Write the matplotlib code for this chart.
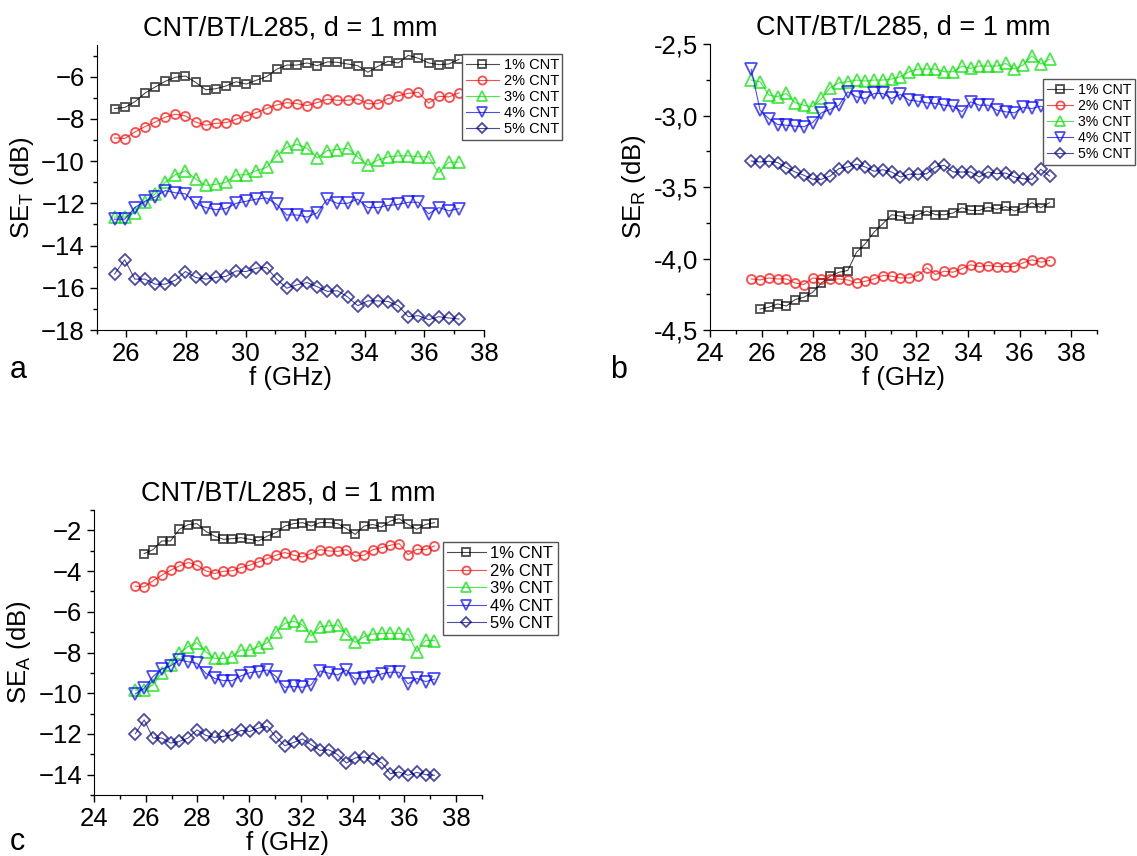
import matplotlib
matplotlib.use("Agg")
import matplotlib.pyplot as plt
from matplotlib.ticker import MultipleLocator, FuncFormatter

plt.rcParams['font.family'] = ['Liberation Sans', 'DejaVu Sans']
plt.rcParams['mathtext.fontset'] = 'custom'
plt.rcParams['mathtext.rm'] = 'Liberation Sans'
plt.rcParams['mathtext.default'] = 'regular'

# frequency points (GHz)
freq = [25.6, 25.94, 26.28, 26.62, 26.96, 27.3, 27.64, 27.98, 28.32, 28.66,
        29.0, 29.34, 29.68, 30.02, 30.36, 30.7, 31.04, 31.38, 31.72, 32.06,
        32.4, 32.74, 33.08, 33.42, 33.76, 34.1, 34.44, 34.78, 35.12, 35.46,
        35.8, 36.14, 36.48, 36.82, 37.16]
freq_1 = freq[1:]  # 1% CNT starts one step later in panels b and c

labels = ['1% CNT', '2% CNT', '3% CNT', '4% CNT', '5% CNT']
colors = ['#000000', '#ff0000', '#00e000', '#0000ff', '#000080']
markers = ['s', 'o', '^', 'v', 'D']
msizes = [6, 6.5, 8, 8, 6]

# panel a: SE_T
se_t_1 = [-7.51, -7.46, -7.19, -6.78, -6.49, -6.22, -6.03, -5.97, -6.27, -6.62,
          -6.57, -6.44, -6.24, -6.35, -6.17, -6.0, -5.65, -5.45, -5.45, -5.35,
          -5.48, -5.30, -5.32, -5.40, -5.48, -5.79, -5.51, -5.27, -5.35, -4.99,
          -5.13, -5.35, -5.43, -5.40, -5.18]
se_t_2 = [-8.90, -8.93, -8.62, -8.37, -8.15, -7.92, -7.78, -7.86, -8.15, -8.30,
          -8.21, -8.18, -8.02, -7.86, -7.70, -7.51, -7.34, -7.23, -7.28, -7.37,
          -7.23, -7.07, -7.12, -7.12, -7.06, -7.28, -7.28, -7.04, -6.91, -6.79,
          -6.74, -7.25, -6.93, -6.96, -6.77]
se_t_3 = [-12.65, -12.65, -12.45, -11.95, -11.55, -11.0, -10.65, -10.45, -10.85, -11.15,
          -11.1, -11.0, -10.65, -10.65, -10.45, -10.3, -9.75, -9.35, -9.2, -9.4,
          -9.85, -9.5, -9.45, -9.4, -9.8, -10.2, -9.95, -9.8, -9.75, -9.75,
          -9.8, -9.8, -10.55, -10.05, -10.05]
se_t_4 = [-12.75, -12.75, -12.2, -11.9, -11.7, -11.4, -11.5, -11.55, -12.0, -12.2,
          -12.3, -12.25, -12.0, -11.9, -11.8, -11.75, -12.05, -12.55, -12.55, -12.65,
          -12.45, -11.8, -12.0, -12.0, -11.8, -12.2, -12.2, -12.1, -12.05, -11.95,
          -11.95, -12.5, -12.2, -12.35, -12.25]
se_t_5 = [-15.35, -14.67, -15.59, -15.59, -15.83, -15.83, -15.64, -15.23, -15.51, -15.59,
          -15.51, -15.46, -15.2, -15.23, -15.07, -15.04, -15.59, -16.02, -15.86, -15.75,
          -15.95, -16.17, -16.14, -16.43, -16.85, -16.62, -16.62, -16.65, -16.85, -17.37,
          -17.32, -17.51, -17.37, -17.43, -17.48]

# panel b: SE_R
se_r_1 = [-4.353, -4.341, -4.318, -4.332, -4.287, -4.271, -4.236, -4.171, -4.124, -4.096,
          -4.084, -3.956, -3.897, -3.815, -3.757, -3.694, -3.703, -3.722, -3.694, -3.668,
          -3.694, -3.694, -3.682, -3.645, -3.664, -3.664, -3.640, -3.657, -3.636, -3.668,
          -3.645, -3.610, -3.645, -3.610]
se_r_2 = [-4.143, -4.150, -4.136, -4.143, -4.143, -4.171, -4.182, -4.136, -4.143, -4.143,
          -4.143, -4.150, -4.171, -4.159, -4.143, -4.119, -4.124, -4.136, -4.136, -4.119,
          -4.065, -4.112, -4.089, -4.096, -4.072, -4.044, -4.056, -4.049, -4.056, -4.056,
          -4.056, -4.030, -4.009, -4.026, -4.014]
se_r_3 = [-2.752, -2.764, -2.857, -2.869, -2.846, -2.911, -2.928, -2.939, -2.881, -2.806,
          -2.771, -2.764, -2.752, -2.759, -2.752, -2.752, -2.745, -2.729, -2.694, -2.675,
          -2.675, -2.675, -2.694, -2.694, -2.654, -2.671, -2.654, -2.654, -2.654, -2.636,
          -2.675, -2.647, -2.582, -2.640, -2.607]
se_r_4 = [-2.678, -2.963, -3.021, -3.063, -3.068, -3.075, -3.079, -3.049, -2.981, -2.958,
          -2.928, -2.834, -2.869, -2.881, -2.846, -2.846, -2.881, -2.853, -2.893, -2.900,
          -2.911, -2.916, -2.928, -2.935, -2.974, -2.904, -2.928, -2.928, -2.963, -2.974,
          -2.981, -2.944, -2.951, -2.935, -2.951]
se_r_5 = [-3.318, -3.325, -3.320, -3.329, -3.364, -3.395, -3.418, -3.446, -3.446, -3.423,
          -3.371, -3.360, -3.341, -3.360, -3.390, -3.379, -3.395, -3.430, -3.411, -3.411,
          -3.407, -3.360, -3.348, -3.395, -3.395, -3.395, -3.430, -3.395, -3.407, -3.402,
          -3.430, -3.442, -3.446, -3.376, -3.423]

# panel c: SE_A
se_a_1 = [-3.14, -2.95, -2.52, -2.52, -1.95, -1.72, -1.67, -2.05, -2.28, -2.44,
          -2.41, -2.36, -2.44, -2.52, -2.28, -2.11, -1.79, -1.67, -1.62, -1.79,
          -1.62, -1.62, -1.67, -1.92, -2.20, -1.79, -1.71, -1.84, -1.54, -1.43,
          -1.71, -1.95, -1.71, -1.62]
se_a_2 = [-4.74, -4.78, -4.48, -4.20, -3.96, -3.75, -3.58, -3.71, -3.99, -4.12,
          -4.01, -3.99, -3.83, -3.71, -3.55, -3.39, -3.22, -3.09, -3.22, -3.31,
          -3.14, -2.95, -3.01, -3.03, -2.95, -3.26, -3.22, -2.95, -2.85, -2.73,
          -2.65, -3.19, -2.93, -2.95, -2.77]
se_a_3 = [-9.84, -9.84, -9.59, -9.02, -8.61, -8.04, -7.71, -7.52, -7.96, -8.29,
          -8.29, -8.20, -7.88, -7.88, -7.71, -7.52, -6.98, -6.57, -6.46, -6.65,
          -7.18, -6.73, -6.69, -6.65, -7.11, -7.50, -7.22, -7.09, -7.06, -7.06,
          -7.06, -7.11, -7.96, -7.39, -7.42]
se_a_4 = [-10.03, -9.76, -9.18, -8.81, -8.66, -8.37, -8.45, -8.53, -9.02, -9.27,
          -9.38, -9.38, -9.15, -8.99, -8.94, -8.86, -9.18, -9.71, -9.67, -9.71,
          -9.59, -8.91, -9.02, -9.10, -8.86, -9.30, -9.27, -9.22, -9.05, -8.97,
          -8.97, -9.54, -9.27, -9.43, -9.31]
se_a_5 = [-11.99, -11.31, -12.20, -12.20, -12.45, -12.37, -12.20, -11.80, -12.07, -12.17,
          -12.12, -12.04, -11.83, -11.88, -11.71, -11.63, -12.16, -12.58, -12.42, -12.25,
          -12.53, -12.81, -12.78, -13.02, -13.43, -13.18, -13.13, -13.22, -13.43, -13.95,
          -13.87, -14.03, -13.89, -14.00, -14.03]

W, H = 1137, 856
fig = plt.figure(figsize=(W / 100, H / 100), dpi=100)


def px_axes(left, top, right, bottom):
    return fig.add_axes([left / W, 1 - bottom / H, (right - left) / W, (bottom - top) / H])


def draw(ax, xs_list, ys_list):
    for xs, ys, lab, c, m, ms in zip(xs_list, ys_list, labels, colors, markers, msizes):
        ax.plot(xs, ys, color=c, lw=0.8, alpha=0.7, marker=m, ms=ms,
                mfc='none', mec=c, mew=1.3, label=lab)
    for s in ['top', 'right']:
        ax.spines[s].set_visible(False)
    ax.tick_params(which='both', direction='out', labelsize=18.5, width=1)
    ax.tick_params(which='major', length=5)
    ax.tick_params(which='minor', length=3)
    ax.set_xlabel('f (GHz)', fontsize=18.5, labelpad=0)
    ax.set_title('CNT/BT/L285, d = 1 mm', fontsize=19.5, pad=7)


def legend(ax, x, y, fs, hl):
    ax.legend(loc='upper left', bbox_to_anchor=(x / W, 1 - y / H),
              bbox_transform=fig.transFigure, fontsize=fs, frameon=True,
              fancybox=False, edgecolor='#555555', framealpha=1,
              borderaxespad=0, borderpad=0.25, labelspacing=0.15,
              handlelength=hl, handletextpad=0.3, markerscale=0.9)


# a
ax_a = px_axes(96.7, 45, 484, 330)
draw(ax_a, [freq] * 5, [se_t_1, se_t_2, se_t_3, se_t_4, se_t_5])
ax_a.set_xlim(25, 38)
ax_a.set_ylim(-18, -4.5)
ax_a.xaxis.set_major_locator(MultipleLocator(2))
ax_a.xaxis.set_minor_locator(MultipleLocator(1))
ax_a.yaxis.set_major_locator(MultipleLocator(2))
ax_a.yaxis.set_minor_locator(MultipleLocator(1))
ax_a.set_ylabel('SE$_T$ (dB)', fontsize=18.5, labelpad=4)
legend(ax_a, 462, 54, 10.5, 2.3)

# b
ax_b = px_axes(710, 44, 1097, 330)
draw(ax_b, [freq_1] + [freq] * 4, [se_r_1, se_r_2, se_r_3, se_r_4, se_r_5])
ax_b.set_xlim(24, 39)
ax_b.set_ylim(-4.5, -2.5)
ax_b.xaxis.set_major_locator(MultipleLocator(2))
ax_b.xaxis.set_minor_locator(MultipleLocator(1))
ax_b.yaxis.set_major_locator(MultipleLocator(0.5))
ax_b.yaxis.set_minor_locator(MultipleLocator(0.25))
ax_b.yaxis.set_major_formatter(FuncFormatter(lambda v, p: ('%.1f' % v).replace('.', ',')))
ax_b.set_ylabel('SE$_R$ (dB)', fontsize=18.5, labelpad=4)
legend(ax_b, 1043, 79, 10.2, 1.9)

# c
ax_c = px_axes(94, 510, 482, 795)
draw(ax_c, [freq_1] + [freq] * 4, [se_a_1, se_a_2, se_a_3, se_a_4, se_a_5])
ax_c.set_xlim(24, 39)
ax_c.set_ylim(-15, -1)
ax_c.xaxis.set_major_locator(MultipleLocator(2))
ax_c.xaxis.set_minor_locator(MultipleLocator(1))
ax_c.yaxis.set_major_locator(MultipleLocator(2))
ax_c.yaxis.set_minor_locator(MultipleLocator(1))
ax_c.set_ylabel('SE$_A$ (dB)', fontsize=18.5, labelpad=4)
legend(ax_c, 443, 542, 12, 2.3)

fig.text(10 / W, 1 - 378 / H, 'a', fontsize=22)
fig.text(610 / W, 1 - 378 / H, 'b', fontsize=22)
fig.text(10 / W, 1 - 850 / H, 'c', fontsize=22)

fig.savefig('out.png', dpi=100)
